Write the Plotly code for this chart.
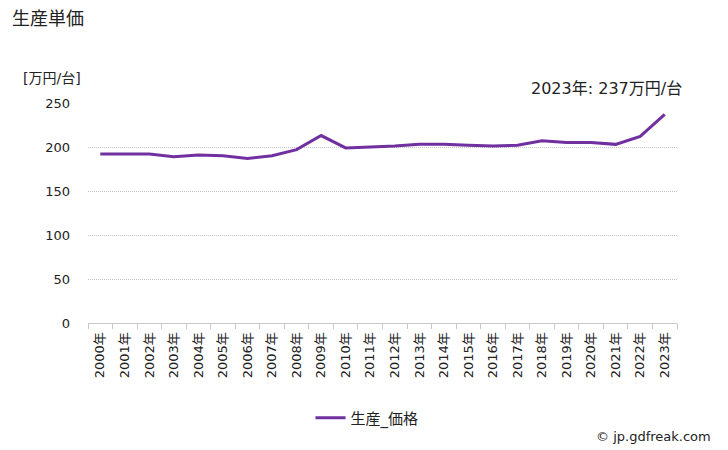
import plotly.graph_objects as go

years = [f"{y}年" for y in range(2000, 2024)]
price = [192, 192, 192, 189, 191, 190, 187, 190, 197, 213, 199, 200, 201, 203, 203, 202, 201, 202, 207, 205, 205, 203, 212, 237]
yticks = [0, 50, 100, 150, 200, 250]

FONT = "DejaVu Sans, Noto Sans CJK JP"
W, H = 728, 450
L, R, T, B = 88, 51, 103, 127
pw, ph = W - L - R, H - T - B

def px(x):
    return (x - L) / pw

def py(y):
    return (H - B - y) / ph

fig = go.Figure()
fig.add_trace(go.Scatter(
    x=years, y=price, mode="lines", name="生産_価格",
    line=dict(color="#7030A0", width=3),
))

fig.update_layout(
    width=W, height=H,
    margin=dict(l=L, r=R, t=T, b=B),
    paper_bgcolor="white", plot_bgcolor="white",
    font=dict(family=FONT, size=13, color="#222"),
    title=dict(text="生産単価", x=12 / W, xanchor="left", xref="container",
               y=1 - 19 / H, yanchor="middle", yref="container",
               font=dict(size=18, family=FONT, color="#222")),
    showlegend=True,
    legend=dict(orientation="h", x=px(367), xanchor="center", y=py(418), yanchor="middle",
                font=dict(size=15, family=FONT), itemwidth=30),
    xaxis=dict(type="category", range=[-0.5, len(years) - 0.5], tickangle=-90,
               tickfont=dict(size=13, family=FONT),
               showgrid=False, showline=True, linecolor="#c8c8c8", linewidth=1,
               ticks="outside", tickson="boundaries", ticklen=5, tickcolor="#c8c8c8",
               ticklabelstandoff=3, zeroline=False),
    yaxis=dict(range=[0, 250], tickvals=yticks, ticktext=[str(v) for v in yticks],
               showgrid=True, gridcolor="#c4c4c4", gridwidth=1, griddash="1px,1px",
               showline=False, zeroline=False, ticks="", ticklabelstandoff=17,
               tickfont=dict(size=13, family=FONT)),
    annotations=[
        dict(text="[万円/台]", xref="paper", yref="paper", x=px(21), y=py(78),
             xanchor="left", yanchor="middle", showarrow=False, font=dict(size=14, family=FONT)),
        dict(text=f"{years[-1]}: {price[-1]}万円/台", xref="paper", yref="paper", x=px(684), y=py(88),
             xanchor="right", yanchor="middle", showarrow=False, font=dict(size=16, family=FONT)),
        dict(text="© jp.gdfreak.com", xref="paper", yref="paper", x=px(713), y=py(436),
             xanchor="right", yanchor="middle", showarrow=False, font=dict(size=13, family=FONT)),
    ],
)

fig.write_html("out.html")
